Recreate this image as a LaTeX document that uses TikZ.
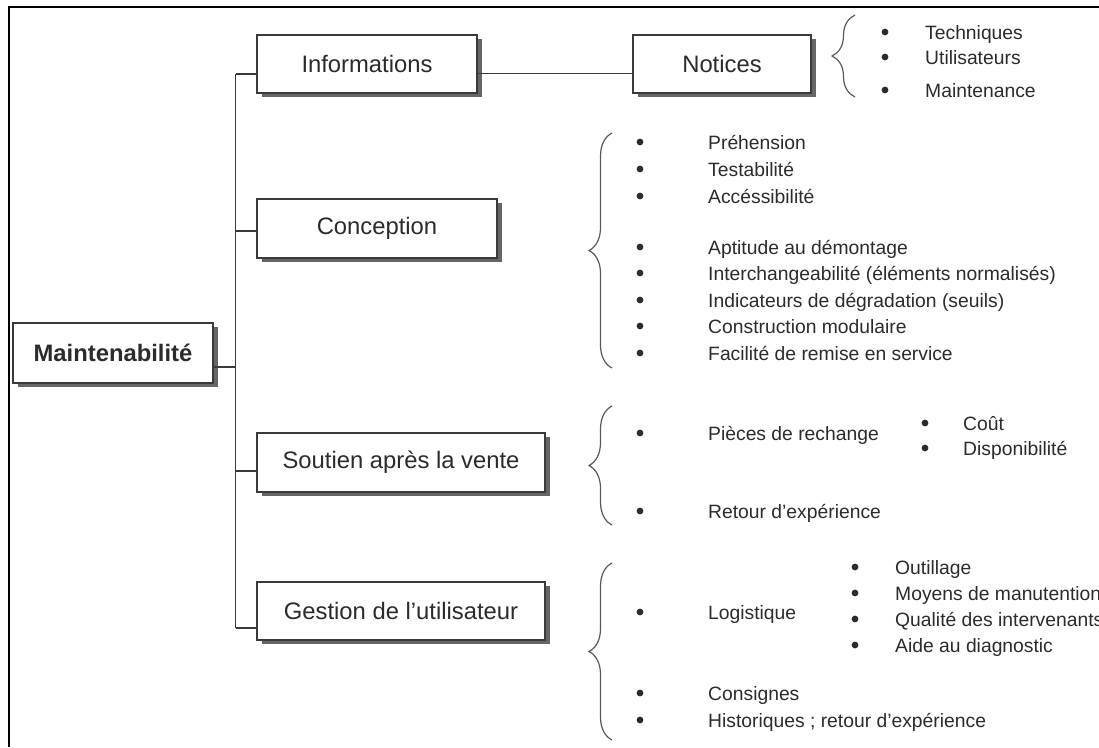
\documentclass[tikz,border=0pt]{standalone}
\usepackage{fontspec}
\setmainfont{Liberation Sans}
\usetikzlibrary{shadows,decorations.pathreplacing}
\definecolor{ink}{HTML}{2B2B2B}
\definecolor{linec}{HTML}{3A3A3A}
\begin{document}
\begin{tikzpicture}[x=1pt,y=-1pt,
  box/.style={draw=linec, line width=1.6pt, fill=white, text=ink,
    font=\fontsize{23.8}{28}\selectfont, inner sep=0pt,
    drop shadow={shadow xshift=4.5pt, shadow yshift=-4pt, fill=black!60, opacity=1}},
  item/.style={anchor=base west, inner sep=0pt, text=ink, font=\fontsize{19.3}{23}\selectfont, yshift=-7pt},
  dot/.style={circle, fill=ink, inner sep=0pt, minimum size=6.8pt},
  conn/.style={draw=linec, line width=1.6pt},
  brc/.style={draw=black!65, line width=1.2pt, decorate, decoration={brace, amplitude=23pt}}]
\useasboundingbox (0,0) rectangle (1099,747);
\clip (0,0) rectangle (1099,747);
% frame
\draw[line width=1.5pt, black] (9,747) -- (9,7) -- (1099,7);
% boxes
\node[box, minimum width=220pt, minimum height=58pt] (info) at (367,64) {Informations};
\node[box, minimum width=240pt, minimum height=59pt] (conc) at (377,228.5) {Conception};
\node[box, minimum width=200pt, minimum height=60pt] (maint) at (113,353) {\bfseries Maintenabilité};
\node[box, minimum width=288pt, minimum height=59pt] (sout) at (401,462.5) {Soutien après la vente};
\node[box, minimum width=288pt, minimum height=58pt] (gest) at (401,611) {Gestion de l’utilisateur};
\node[box, minimum width=178pt, minimum height=58pt] (noti) at (722,64) {Notices};
% trunk
\coordinate (ttop) at (235.5,74);
\coordinate (tbot) at (235.5,628);
\draw[conn] (ttop) -- (tbot);
\draw[conn] (ttop) -- ([yshift=-10pt]info.west);
\draw[conn] ([yshift=-2.5pt]conc.west) -- +(-21.5,0);
\draw[conn] ([yshift=-14pt]maint.east) -- +(22.5,0);
\draw[conn] ([yshift=-8.5pt]sout.west) -- +(-21.5,0);
\draw[conn] (tbot) -- ([yshift=-17pt]gest.west);
\draw[conn] ([yshift=-9.5pt]info.east) -- ([yshift=-9.5pt]noti.west);
% braces
\draw[brc] (855,97) -- (855,15);
\draw[brc] (612,368) -- (612,133);
\draw[brc] (612,525) -- (612,406);
\draw[brc] (612,740) -- (612,563);
% Notices items
\node[dot] (d1) at (885,32) {};
\node[item] (t1) at (925,32) {Techniques};
\node[dot] (d2) at (885,57) {};
\node[item] (t2) at (925,57) {Utilisateurs};
\node[dot] (d3) at (885,90) {};
\node[item] (t3) at (925,90) {Maintenance};
% Conception items
\foreach \y/\t [count=\i] in {142/Préhension,169/Testabilité,196/Accéssibilité,247/Aptitude au démontage,273/Interchangeabilité (éléments normalisés),300/Indicateurs de dégradation (seuils),326/Construction modulaire,353/Facilité de remise en service}{
  \node[dot] (cd\i) at (640,\y) {};
  \node[item] (ct\i) at (708,\y) {\t};
}
% Soutien items
\node[dot] (sd1) at (640,433) {};
\node[item] (st1) at (708,433) {Pièces de rechange};
\node[dot] (sd2) at (640,511) {};
\node[item] (st2) at (708,511) {Retour d’expérience};
\node[dot] (ssd1) at (925,423) {};
\node[item] (sst1) at (963,423) {Coût};
\node[dot] (ssd2) at (925,448) {};
\node[item] (sst2) at (963,448) {Disponibilité};
% Gestion items
\node[dot] (gd1) at (640,612) {};
\node[item] (gt1) at (708,612) {Logistique};
\node[dot] (gd2) at (640,693) {};
\node[item] (gt2) at (708,693) {Consignes};
\node[dot] (gd3) at (640,720) {};
\node[item] (gt3) at (708,720) {Historiques ; retour d’expérience};
\node[dot] (gsd1) at (855,567) {};
\node[item] (gst1) at (895,567) {Outillage};
\node[dot] (gsd2) at (855,593) {};
\node[item] (gst2) at (895,593) {Moyens de manutention};
\node[dot] (gsd3) at (855,619) {};
\node[item] (gst3) at (895,619) {Qualité des intervenants};
\node[dot] (gsd4) at (855,645) {};
\node[item] (gst4) at (895,645) {Aide au diagnostic};
\end{tikzpicture}
\end{document}
